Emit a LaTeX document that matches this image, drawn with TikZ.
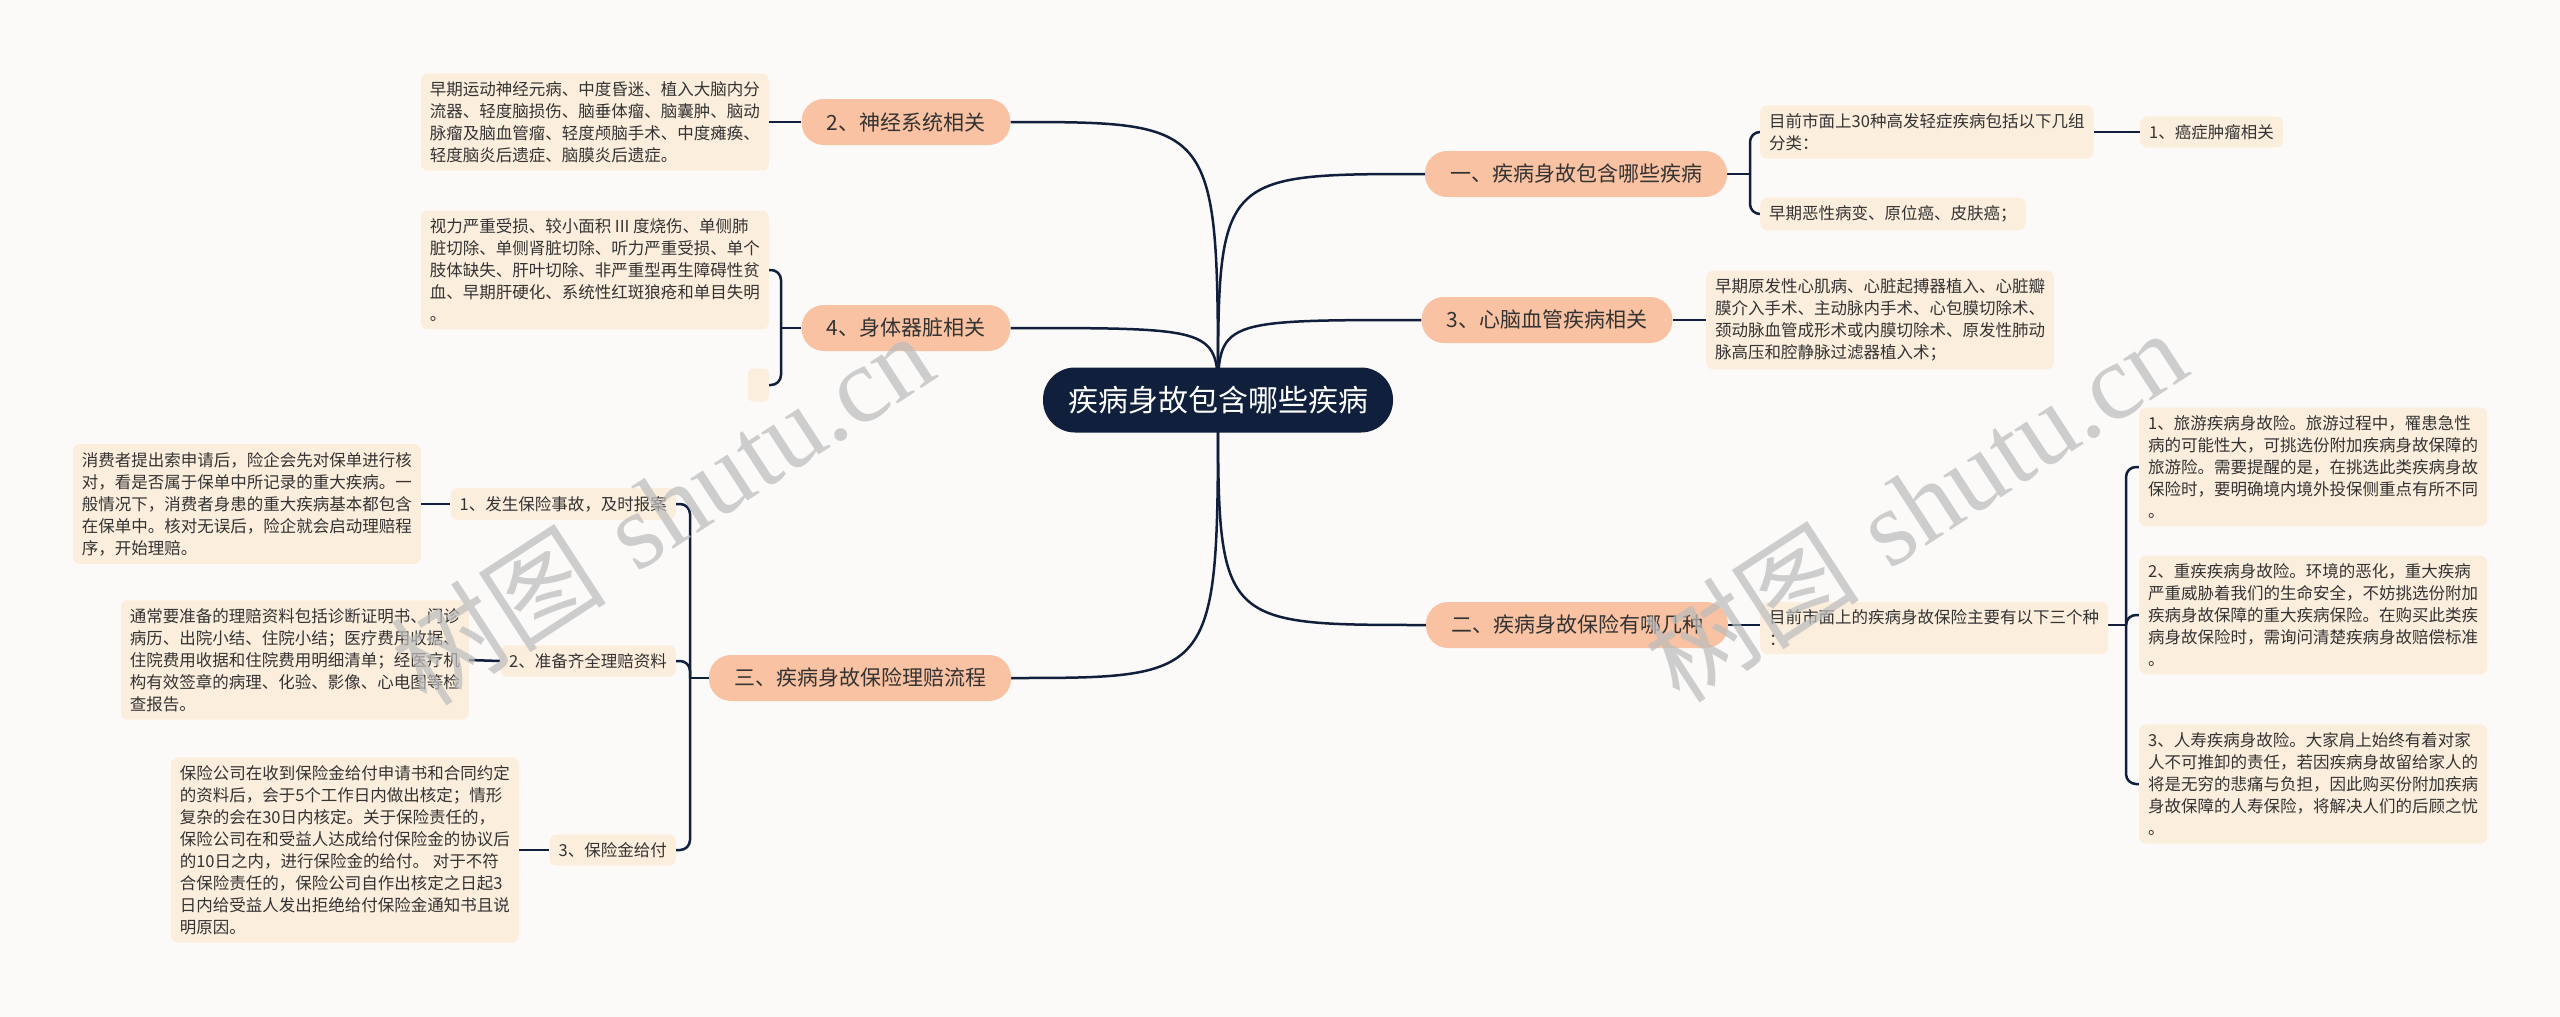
\documentclass[tikz,border=0pt]{standalone}
\usepackage{fontspec}
\newfontfamily\cjk{Noto Sans CJK SC}
\newfontfamily\wmserif{Liberation Serif}
\pgfdeclarelayer{paper}
\pgfdeclarelayer{links}
\pgfsetlayers{paper,links,main}
\definecolor{bgc}{HTML}{FCFAF8}
\definecolor{navy}{HTML}{0F1F3C}
\definecolor{pillc}{HTML}{F9C2A2}
\definecolor{leafc}{HTML}{FCEEDD}
\definecolor{txt}{HTML}{333333}
\definecolor{wm}{HTML}{BDBDBD}
\tikzset{
  central/.style={fill=navy, rounded corners=32pt, minimum width=350pt, minimum height=65pt,
    text=white, font=\cjk\fontsize{30}{36}\selectfont, inner sep=0pt},
  pillbox/.style={fill=pillc, rounded corners=22pt, minimum height=46pt, inner xsep=25pt,
    inner ysep=0pt, text=txt, font=\cjk\fontsize{21}{25}\selectfont},
  leafbox/.style={fill=leafc, rounded corners=7pt, inner xsep=9pt, inner ysep=8pt,
    text=txt, align=left, font=\cjk\fontsize{16.5}{22}\selectfont},
  link/.style={draw=navy, line width=2.5pt},
  brk/.style={draw=navy, line width=2.5pt, rounded corners=10pt},
  wmark/.style={text=wm, opacity=0.72, rotate=33, inner sep=0pt}
}
\begin{document}
\begin{tikzpicture}[x=1pt,y=-1pt]
\begin{pgfonlayer}{paper}
\fill[bgc] (0,0) rectangle (2560,1017);
\end{pgfonlayer}
\useasboundingbox (0,0) rectangle (2560,1017);

% central
\node[central] (c) at (1218,400) {疾病身故包含哪些疾病};

% right side
\node[pillbox] (n1) at (1576,174) {一、疾病身故包含哪些疾病};
\node[leafbox, anchor=west] (n1a) at (1760,132) {目前市面上30种高发轻症疾病包括以下几组\\分类：};
\node[leafbox, anchor=west] (n1b) at (1760,214) {早期恶性病变、原位癌、皮肤癌；};
\node[leafbox, anchor=west] (n1c) at (2140,132) {1、癌症肿瘤相关};

\node[pillbox] (n3) at (1547,320) {3、心脑血管疾病相关};
\node[leafbox, anchor=west] (n3a) at (1706,320) {早期原发性心肌病、心脏起搏器植入、心脏瓣\\膜介入手术、主动脉内手术、心包膜切除术、\\颈动脉血管成形术或内膜切除术、原发性肺动\\脉高压和腔静脉过滤器植入术；};

\node[pillbox] (n2) at (1577,625) {二、疾病身故保险有哪几种};
\node[leafbox, anchor=west] (n2a) at (1760,628) {目前市面上的疾病身故保险主要有以下三个种\\：};
\node[leafbox, anchor=west] (b1) at (2139,467) {1、旅游疾病身故险。旅游过程中，罹患急性\\病的可能性大，可挑选份附加疾病身故保障的\\旅游险。需要提醒的是，在挑选此类疾病身故\\保险时，要明确境内境外投保侧重点有所不同\\。};
\node[leafbox, anchor=west] (b2) at (2139,615) {2、重疾疾病身故险。环境的恶化，重大疾病\\严重威胁着我们的生命安全，不妨挑选份附加\\疾病身故保障的重大疾病保险。在购买此类疾\\病身故保险时，需询问清楚疾病身故赔偿标准\\。};
\node[leafbox, anchor=west] (b3) at (2139,784) {3、人寿疾病身故险。大家肩上始终有着对家\\人不可推卸的责任，若因疾病身故留给家人的\\将是无穷的悲痛与负担，因此购买份附加疾病\\身故保障的人寿保险，将解决人们的后顾之忧\\。};

% left side
\node[pillbox] (m2) at (906,122) {2、神经系统相关};
\node[leafbox, anchor=east] (m2a) at (769,122) {早期运动神经元病、中度昏迷、植入大脑内分\\流器、轻度脑损伤、脑垂体瘤、脑囊肿、脑动\\脉瘤及脑血管瘤、轻度颅脑手术、中度瘫痪、\\轻度脑炎后遗症、脑膜炎后遗症。};

\node[pillbox] (m4) at (906,328) {4、身体器脏相关};
\node[leafbox, anchor=east] (m4a) at (769,270) {视力严重受损、较小面积 III 度烧伤、单侧肺\\脏切除、单侧肾脏切除、听力严重受损、单个\\肢体缺失、肝叶切除、非严重型再生障碍性贫\\血、早期肝硬化、系统性红斑狼疮和单目失明\\。};
\node[fill=leafc, rounded corners=5pt, minimum width=21pt, minimum height=33pt, inner sep=0pt, anchor=east] (m4b) at (769,385) {};

\node[pillbox] (m3) at (860,678) {三、疾病身故保险理赔流程};
\node[leafbox, anchor=east] (k1) at (676,504) {1、发生保险事故，及时报案};
\node[leafbox, anchor=east] (k1a) at (421,504) {消费者提出索申请后，险企会先对保单进行核\\对，看是否属于保单中所记录的重大疾病。一\\般情况下，消费者身患的重大疾病基本都包含\\在保单中。核对无误后，险企就会启动理赔程\\序，开始理赔。};
\node[leafbox, anchor=east] (k2) at (676,661) {2、准备齐全理赔资料};
\node[leafbox, anchor=east] (k2a) at (469,660) {通常要准备的理赔资料包括诊断证明书、门诊\\病历、出院小结、住院小结；医疗费用收据、\\住院费用收据和住院费用明细清单；经医疗机\\构有效签章的病理、化验、影像、心电图等检\\查报告。};
\node[leafbox, anchor=east] (k3) at (676,850) {3、保险金给付};
\node[leafbox, anchor=east] (k3a) at (519,850) {保险公司在收到保险金给付申请书和合同约定\\的资料后，会于5个工作日内做出核定；情形\\复杂的会在30日内核定。关于保险责任的，\\保险公司在和受益人达成给付保险金的协议后\\的10日之内，进行保险金的给付。 对于不符\\合保险责任的，保险公司自作出核定之日起3\\日内给受益人发出拒绝给付保险金通知书且说\\明原因。};

% junctions
\coordinate (j1) at (1750,174);
\coordinate (j2) at (2126,625);
\coordinate (j4) at (781,328);
\coordinate (j3) at (690,678);

\begin{pgfonlayer}{links}
% central to main branches
\draw[link] (c.center) .. controls (1218,174) .. (n1.west);
\draw[link] (c.center) .. controls (1218,320) .. (n3.west);
\draw[link] (c.center) .. controls (1218,625) .. (n2.west);
\draw[link] (c.center) .. controls (1218,122) .. (m2.east);
\draw[link] (c.center) .. controls (1218,328) .. (m4.east);
\draw[link] (c.center) .. controls (1218,678) .. (m3.east);
% right children
\draw[link] (n1.east) -- (j1);
\draw[brk] (j1) |- (n1a.west);
\draw[brk] (j1) |- (n1b.west);
\draw[link] (n1a.east) -- (n1c.west);
\draw[link] (n3.east) -- (n3a.west);
\draw[link] (n2.east) -- (n2a.west |- n2.east);
\draw[link] (n2a.east |- j2) -- (j2);
\draw[brk] (j2) |- (b1.west);
\draw[brk] (j2) |- (b2.west);
\draw[brk] (j2) |- (b3.west);
% left children
\draw[link] (m2.west) -- (m2a.east);
\draw[link] (m4.west) -- (j4);
\draw[brk] (j4) |- (m4a.east);
\draw[brk] (j4) |- (m4b.east);
\draw[link] (m3.west) -- (j3);
\draw[brk] (j3) |- (k1.east);
\draw[brk] (j3) |- (k2.east);
\draw[brk] (j3) |- (k3.east);
\draw[link] (k1.west) -- (k1a.east);
\draw[link] (k2.west) -- (k2a.east);
\draw[link] (k3.west) -- (k3a.east);
\end{pgfonlayer}

% watermarks
\node[wmark] (w1) at (662,508) {\fontsize{108}{120}\selectfont{\cjk 树图} {\wmserif shutu.cn}};
\node[wmark] (w2) at (1915,505) {\fontsize{108}{120}\selectfont{\cjk 树图} {\wmserif shutu.cn}};
\end{tikzpicture}
\end{document}
